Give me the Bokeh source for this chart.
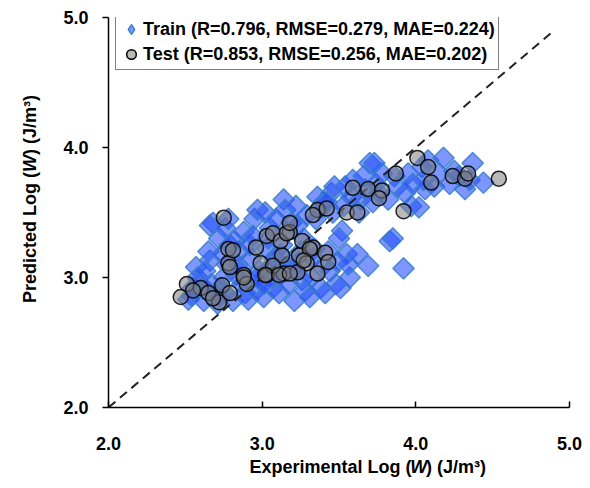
import numpy as np
from bokeh.plotting import figure
from bokeh.models import Range1d, FixedTicker, Legend, LegendItem, ColumnDataSource
from bokeh.layouts import row, column
from bokeh.core.properties import value
from bokeh.embed import file_html
from bokeh.resources import INLINE

# ---------------- data ----------------
train_x = [2.52, 2.55, 2.57, 2.58, 2.54, 2.59,
           2.62, 2.64, 2.66, 2.63, 2.67, 2.65, 2.68, 2.66, 2.69,
           2.71, 2.72, 2.73, 2.75, 2.74, 2.76, 2.78, 2.72, 2.77, 2.79, 2.76,
           2.81, 2.83, 2.85, 2.82, 2.87, 2.88, 2.84, 2.89, 2.86,
           2.91, 2.93, 2.95, 2.97, 2.92, 2.96, 2.98, 2.94, 2.99, 2.97,
           3.01, 3.03, 3.05, 3.02, 3.06, 3.08, 3.04, 3.07, 3.09, 3.05, 3.01,
           3.11, 3.13, 3.14, 3.12, 3.16, 3.18, 3.15, 3.17, 3.19, 3.12, 3.16,
           3.21, 3.22, 3.24, 3.23, 3.26, 3.27, 3.25, 3.28, 3.29, 3.22,
           3.31, 3.33, 3.35, 3.32, 3.36, 3.34, 3.38, 3.37, 3.39, 3.40,
           3.41, 3.43, 3.45, 3.44, 3.46, 3.48, 3.47, 3.49, 3.42,
           3.51, 3.53, 3.55, 3.54, 3.57, 3.58, 3.56, 3.59, 3.52, 3.50,
           3.62, 3.64, 3.66, 3.69, 3.63, 3.67, 3.70,
           3.72, 3.74, 3.76, 3.78, 3.73,
           3.82, 3.83, 3.85, 3.86, 3.88,
           3.92, 3.93, 3.95, 3.97, 3.98,
           4.02, 4.04, 4.06, 4.08, 4.05,
           4.12, 4.15, 4.18,
           4.22, 4.25, 4.28,
           4.32, 4.35, 4.37,
           4.44]
train_y = [2.83, 2.92, 3.08, 3.00, 2.86, 2.95,
           2.82, 2.90, 3.13, 3.05, 2.95, 3.20, 3.42, 3.40, 2.88,
           2.80, 3.30, 2.92, 3.00, 3.18, 3.38, 3.45, 2.85, 3.10, 3.25, 2.88,
           2.82, 3.02, 3.20, 3.28, 2.95, 3.35, 3.10, 2.88, 3.05,
           2.83, 3.15, 3.45, 3.52, 3.25, 2.90, 3.05, 3.32, 2.98, 3.00,
           2.85, 3.22, 3.38, 3.50, 3.00, 3.15, 3.30, 2.92, 3.45, 3.08, 2.95,
           2.88, 3.25, 3.60, 3.02, 3.35, 3.10, 3.52, 2.95, 3.42, 3.18, 3.05,
           2.82, 3.55, 3.12, 3.40, 2.98, 3.30, 3.20, 2.90, 3.48, 3.05,
           2.85, 3.15, 3.45, 3.00, 3.62, 3.22, 2.92, 3.52, 3.08, 3.58,
           2.88, 3.20, 3.65, 3.05, 3.50, 2.95, 3.70, 3.12, 3.58,
           2.92, 3.55, 3.18, 3.70, 3.00, 3.62, 3.10, 3.75, 3.36, 3.30,
           3.18, 3.60, 3.78, 3.09, 3.50, 3.68, 3.88,
           3.58, 3.72, 3.65, 3.80, 3.88,
           3.60, 3.28, 3.30, 3.78, 3.70,
           3.07, 3.65, 3.80, 3.55, 3.72,
           3.54, 3.85, 3.68, 3.90, 3.75,
           3.70, 3.80, 3.92,
           3.72, 3.82, 3.78,
           3.68, 3.75, 3.88,
           3.73]

test_x = [2.47, 2.51, 2.60, 2.65, 2.72, 2.74, 2.79, 2.75, 2.78, 2.78, 2.81, 2.79,
          2.88, 2.90, 2.88, 2.96, 2.99, 3.03, 3.07, 3.03, 3.13, 3.14, 3.12, 3.18,
          3.26, 3.24, 3.33, 3.41, 3.43, 3.29, 3.07, 3.23, 3.36, 3.02, 3.11, 3.18,
          3.16, 3.18, 3.31, 3.27, 3.36, 3.42, 3.33, 3.55, 3.62, 3.59, 3.69, 3.78,
          3.76, 3.87, 3.92, 4.01, 4.08, 4.10, 4.24, 4.32, 4.34, 4.54, 2.55, 2.68]
test_y = [2.85, 2.95, 2.92, 2.88, 2.81, 2.94, 2.88, 3.46, 3.22, 3.11, 3.21, 3.08,
          3.02, 2.95, 3.00, 3.23, 3.11, 3.32, 3.34, 3.02, 3.17, 3.03, 3.28, 3.35,
          3.28, 3.17, 3.23, 3.19, 3.12, 3.11, 3.09, 3.04, 3.03, 3.02, 3.02, 3.03,
          3.34, 3.42, 3.22, 3.13, 3.52, 3.53, 3.48, 3.50, 3.50, 3.69, 3.68, 3.67,
          3.61, 3.80, 3.51, 3.92, 3.85, 3.73, 3.78, 3.76, 3.80, 3.76, 2.90, 2.84]

diag = [2.0, 4.9]
ticks = [2.0, 3.0, 4.0, 5.0]
train_label = "Train (R=0.796, RMSE=0.279, MAE=0.224)"
test_label = "Test (R=0.853, RMSE=0.256, MAE=0.202)"
xlabel_parts = ["Experimental Log (", "W", ") (J/m\u00b3)"]
ylabel_parts = ["Predicted Log (", "W", ") (J/m\u00b3)"]

FONT = "Liberation Sans"
LEFT_W = 50      # width of the strip that carries the y-axis title
BOTTOM_H = 32    # height of the strip that carries the x-axis title

# ---------------- main plot ----------------
p = figure(width=590 - LEFT_W, height=488 - BOTTOM_H,
           x_range=Range1d(2, 5), y_range=Range1d(2, 5),
           output_backend="svg", toolbar_location=None,
           min_border_left=108 - LEFT_W, min_border_right=21,
           min_border_top=17, min_border_bottom=49)
p.outline_line_color = None
p.grid.visible = False
p.background_fill_color = "white"
p.border_fill_color = "white"

for ax in (p.xaxis[0], p.yaxis[0]):
    ax.ticker = FixedTicker(ticks=ticks)
    ax.major_label_overrides = {t: "%.1f" % t for t in ticks}
    ax.minor_tick_line_color = None
    ax.axis_line_color = "black"
    ax.axis_line_width = 1.5
    ax.major_tick_line_color = "black"
    ax.major_tick_line_width = 1.5
    ax.major_label_text_font = FONT
    ax.major_label_text_font_style = "bold"
    ax.major_label_text_font_size = "18px"
    ax.major_label_text_color = "black"

p.xaxis.major_tick_in = 6
p.xaxis.major_tick_out = 0
p.xaxis.major_label_standoff = 29
p.yaxis.major_tick_in = 0
p.yaxis.major_tick_out = 6
p.yaxis.major_label_standoff = 14

src_tr = ColumnDataSource(dict(x=train_x, y=train_y))
src_te = ColumnDataSource(dict(x=test_x, y=test_y))

p.scatter("x", "y", source=src_tr, marker="square", size=15, angle=np.pi / 4,
          fill_color="#2850ff", fill_alpha=0.6,
          line_color="#3a80c8", line_alpha=0.85, line_width=1.5)
p.line(diag, diag, line_color="#222222", line_width=2, line_dash="9 6")
p.scatter("x", "y", source=src_te, marker="circle", size=15,
          fill_color="#808080", fill_alpha=0.55,
          line_color="black", line_alpha=0.85, line_width=1.5)

# legend proxies (a single NaN point: nothing is drawn in the plot area)
lg_tr = p.scatter([np.nan], [np.nan], marker="diamond", fill_color="#2850ff", fill_alpha=0.6,
                  line_color="#3a80c8", line_width=1.5)
lg_te = p.scatter([np.nan], [np.nan], marker="circle", fill_color="#808080", fill_alpha=0.55,
                  line_color="black", line_width=1.5)

legend = Legend(items=[LegendItem(label=train_label, renderers=[lg_tr]),
                       LegendItem(label=test_label, renderers=[lg_te])],
                location=(7, 337))
legend.label_text_font = FONT
legend.label_text_font_style = "bold"
legend.label_text_font_size = "18px"
legend.label_text_color = "black"
legend.glyph_width = 24
legend.glyph_height = 24
legend.label_height = 24
legend.label_standoff = 0
legend.spacing = 1
legend.padding = 3
legend.margin = 0
legend.border_line_color = "black"
legend.border_line_width = 1
legend.background_fill_alpha = 1.0
p.add_layout(legend)


def strip(w, h):
    f = figure(width=w, height=h, x_range=Range1d(0, w), y_range=Range1d(0, h),
               output_backend="svg", toolbar_location=None,
               x_axis_location=None, y_axis_location=None,
               min_border_left=0, min_border_right=0, min_border_top=0, min_border_bottom=0)
    f.outline_line_color = None
    f.grid.visible = False
    f.background_fill_color = "white"
    f.border_fill_color = "white"
    return f


tstyle = dict(text_font=value(FONT), text_font_size="18px", text_color="black",
              text_baseline="alphabetic")

# ---------------- y-axis title strip (pixel coordinates, y up) ----------------
ys = strip(LEFT_W, 488)
ys.text(x=[29], y=[488 - 171.5], text=[ylabel_parts[0]], angle=np.pi / 2,
        text_align="right", text_font_style="bold", **tstyle)
ys.text(x=[29], y=[488 - 163], text=[ylabel_parts[1]], angle=np.pi / 2,
        text_align="center", text_font_style="bold italic", **tstyle)
ys.text(x=[29], y=[488 - 154.5], text=[ylabel_parts[2]], angle=np.pi / 2,
        text_align="left", text_font_style="bold", **tstyle)

# ---------------- x-axis title strip ----------------
xs = strip(590 - LEFT_W, BOTTOM_H)
bl = 488 - 466
xs.text(x=[405 - LEFT_W], y=[bl], text=[xlabel_parts[0]],
        text_align="right", text_font_style="bold", **tstyle)
xs.text(x=[413.5 - LEFT_W], y=[bl], text=[xlabel_parts[1]],
        text_align="center", text_font_style="bold italic", **tstyle)
xs.text(x=[422 - LEFT_W], y=[bl], text=[xlabel_parts[2]],
        text_align="left", text_font_style="bold", **tstyle)

layout = row(ys, column(p, xs, spacing=0), spacing=0)
open("out.html", "w").write(file_html(layout, INLINE))
